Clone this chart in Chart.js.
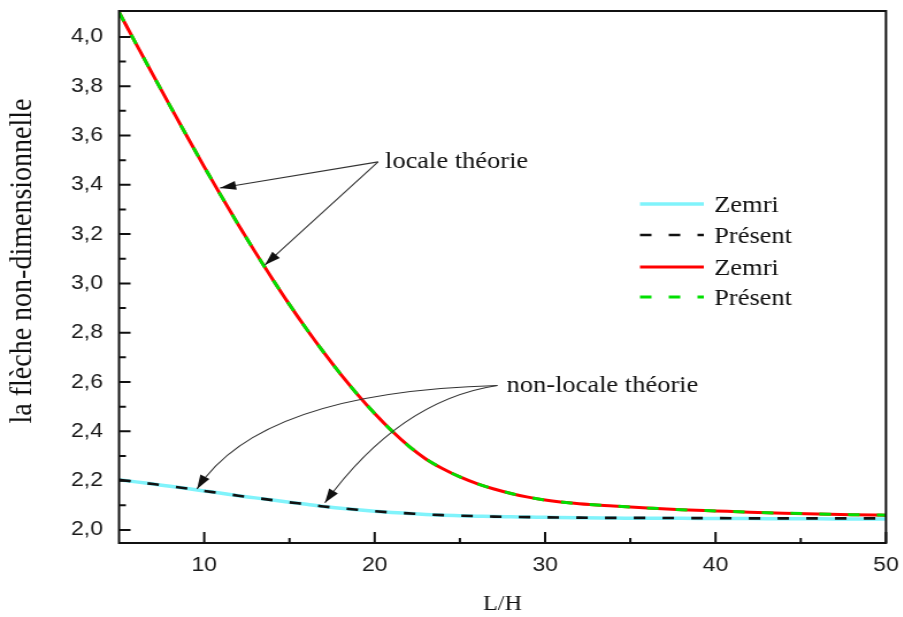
<!DOCTYPE html>
<html>
<head>
<meta charset="utf-8">
<script src="https://cdn.jsdelivr.net/npm/chart.js@4.4.0/dist/chart.umd.min.js"></script>
<style>
  html, body { margin: 0; padding: 0; background: #fff; overflow: hidden; }
  #wrap { width: 785px; height: 617px; transform: scaleX(1.15); transform-origin: 0 0; }
</style>
</head>
<body>
<div id="wrap"><canvas id="chart" aria-label="la flèche non-dimensionnelle en fonction de L/H" role="img"></canvas></div>
<script>
// L/H values shared by all curves
const lh = [5, 6, 7, 8, 9, 10, 11, 12, 13, 14, 15, 16, 17, 18, 19, 20, 21, 22, 23, 24, 25,
  26, 27, 28, 29, 30, 32, 34, 36, 38, 40, 42, 44, 46, 48, 50];

// non-locale théorie
const nonLocalZemri = [2.203, 2.195, 2.186, 2.177, 2.168, 2.158, 2.149, 2.139, 2.130, 2.121, 2.112,
  2.104, 2.095, 2.088, 2.082, 2.076, 2.071, 2.067, 2.063, 2.060, 2.058, 2.056, 2.054, 2.053, 2.052,
  2.051, 2.049, 2.048, 2.047, 2.047, 2.046, 2.046, 2.045, 2.045, 2.044, 2.044];
const nonLocalPresent = [2.203, 2.195, 2.186, 2.177, 2.168, 2.158, 2.149, 2.139, 2.130, 2.121, 2.112,
  2.104, 2.095, 2.088, 2.082, 2.076, 2.071, 2.067, 2.063, 2.060, 2.058, 2.056, 2.054, 2.053, 2.052,
  2.051, 2.050, 2.049, 2.049, 2.048, 2.048, 2.047, 2.047, 2.047, 2.047, 2.047];

// locale théorie
const localZemri = [4.100, 3.972, 3.845, 3.719, 3.595, 3.473, 3.354, 3.238, 3.126, 3.018, 2.914,
  2.815, 2.721, 2.632, 2.549, 2.472, 2.402, 2.340, 2.288, 2.248, 2.215, 2.188, 2.166, 2.148, 2.133,
  2.121, 2.106, 2.097, 2.089, 2.082, 2.077, 2.072, 2.068, 2.065, 2.062, 2.060];
const localPresent = localZemri.slice();

const xTicks = [10, 20, 30, 40, 50];
const xMinorTicks = [15, 25, 35, 45];
const yTicks = [2.0, 2.2, 2.4, 2.6, 2.8, 3.0, 3.2, 3.4, 3.6, 3.8, 4.0];
const yMinorTicks = [2.1, 2.3, 2.5, 2.7, 2.9, 3.1, 3.3, 3.5, 3.7, 3.9];

// annotation anchors, in data units
const localLabel = { text: "locale théorie", x: 20.2, y: 3.493 };
const localTips = [[10.92, 3.387], [13.56, 3.075]];
const nonLocalLabel = { text: "non-locale théorie", x: 27.2, y: 2.586 };
const nonLocalTips = [
  { tip: [9.575, 2.166], ctrl: [13.27, 2.56] },
  { tip: [17.08, 2.11], ctrl: [21.48, 2.527] },
];

const serif = "'Liberation Serif', 'Times New Roman', serif";
const sans = "'Liberation Sans', Arial, sans-serif";

function toPts(ys) {
  return lh.map((v, i) => ({ x: v, y: ys[i] }));
}

function arrowHead(ctx, fx, fy, tx, ty) {
  const ang = Math.atan2(ty - fy, tx - fx);
  const len = 14, half = 4.5;
  ctx.beginPath();
  ctx.moveTo(tx, ty);
  ctx.lineTo(tx - len * Math.cos(ang) + half * Math.sin(ang), ty - len * Math.sin(ang) - half * Math.cos(ang));
  ctx.lineTo(tx - len * Math.cos(ang) - half * Math.sin(ang), ty - len * Math.sin(ang) + half * Math.cos(ang));
  ctx.closePath();
  ctx.fill();
}

function noPad(s) {
  s.paddingTop = 0;
  s.paddingBottom = 0;
  s.paddingLeft = 0;
  s.paddingRight = 0;
}

const overlay = {
  id: "overlay",
  afterDatasetsDraw(chart) {
    const { ctx, chartArea: a, scales: { x, y } } = chart;
    const px = (v) => x.getPixelForValue(v);
    const py = (v) => y.getPixelForValue(v);
    ctx.save();

    // locale théorie arrows
    ctx.strokeStyle = "#333";
    ctx.fillStyle = "#111";
    ctx.lineWidth = 1.1;
    const lx = px(localLabel.x), ly = py(localLabel.y);
    localTips.forEach(([tx, ty]) => {
      ctx.beginPath();
      ctx.moveTo(lx, ly);
      ctx.lineTo(px(tx), py(ty));
      ctx.stroke();
      arrowHead(ctx, lx, ly, px(tx), py(ty));
    });

    // non-locale théorie arrows
    const nx = px(nonLocalLabel.x), ny = py(nonLocalLabel.y);
    nonLocalTips.forEach(({ tip, ctrl }) => {
      const cx = px(ctrl[0]), cy = py(ctrl[1]);
      const tx = px(tip[0]), ty = py(tip[1]);
      ctx.beginPath();
      ctx.moveTo(nx, ny);
      ctx.quadraticCurveTo(cx, cy, tx, ty);
      ctx.stroke();
      arrowHead(ctx, cx, cy, tx, ty);
    });

    ctx.fillStyle = "#111";
    ctx.font = "23px " + serif;
    ctx.textAlign = "left";
    ctx.textBaseline = "middle";
    ctx.fillText(localLabel.text, lx + 6, ly);
    ctx.fillText(nonLocalLabel.text, nx + 8, ny);

    // legend
    const rows = [204, 235, 267, 297];
    chart.data.datasets.forEach((ds, i) => {
      ctx.beginPath();
      ctx.setLineDash(ds.borderDash || []);
      ctx.strokeStyle = ds.borderColor;
      ctx.lineWidth = ds.borderWidth;
      ctx.moveTo(556.5, rows[i]);
      ctx.lineTo(612, rows[i]);
      ctx.stroke();
      ctx.setLineDash([]);
      ctx.fillStyle = "#111";
      ctx.fillText(ds.label, 621, rows[i] + 2);
    });

    // frame and inward ticks
    ctx.strokeStyle = "#111";
    ctx.lineWidth = 2;
    ctx.strokeRect(a.left, a.top, a.right - a.left, a.bottom - a.top);
    ctx.beginPath();
    xTicks.forEach((v) => { ctx.moveTo(px(v), a.bottom); ctx.lineTo(px(v), a.bottom - 11); });
    xMinorTicks.forEach((v) => { ctx.moveTo(px(v), a.bottom); ctx.lineTo(px(v), a.bottom - 5); });
    yTicks.forEach((v) => { ctx.moveTo(a.left, py(v)); ctx.lineTo(a.left + 10, py(v)); });
    yMinorTicks.forEach((v) => { ctx.moveTo(a.left, py(v)); ctx.lineTo(a.left + 6, py(v)); });
    ctx.stroke();

    // y axis title
    ctx.translate(19.5, 261);
    ctx.rotate(-Math.PI / 2);
    ctx.textAlign = "center";
    ctx.font = "28px " + serif;
    ctx.fillText("la flèche non-dimensionnelle", 0, 0);
    ctx.restore();
  },
};

new Chart(document.getElementById("chart"), {
  type: "line",
  data: {
    datasets: [
      { label: "Zemri", data: toPts(nonLocalZemri), borderColor: "#80f3fb", borderWidth: 3.5, order: 2 },
      { label: "Présent", data: toPts(nonLocalPresent), borderColor: "#111111", borderWidth: 2.6, borderDash: [10, 15], order: 1 },
      { label: "Zemri", data: toPts(localZemri), borderColor: "#ff0000", borderWidth: 3, order: 2 },
      { label: "Présent", data: toPts(localPresent), borderColor: "#00e000", borderWidth: 3, borderDash: [10, 15], order: 1 },
    ],
  },
  options: {
    responsive: true,
    maintainAspectRatio: false,
    animation: false,
    layout: { padding: { top: 11, right: 14.6, left: 0, bottom: 0 } },
    elements: { point: { radius: 0 }, line: { cubicInterpolationMode: "monotone" } },
    plugins: { legend: { display: false }, tooltip: { enabled: false } },
    scales: {
      x: {
        type: "linear",
        min: 5,
        max: 50,
        grid: { display: false, drawTicks: false },
        border: { display: false },
        afterBuildTicks: (s) => { s.ticks = xTicks.map((v) => ({ value: v })); },
        afterFit: (s) => { s.height = 74; noPad(s); },
        ticks: { color: "#1a1a1a", padding: 10, maxRotation: 0, font: { family: sans, size: 20 } },
        title: { display: true, text: "L/H", color: "#111", padding: { top: 0, bottom: 0 }, font: { family: serif, size: 21 } },
      },
      y: {
        min: 1.947,
        max: 4.105,
        grid: { display: false, drawTicks: false },
        border: { display: false },
        afterBuildTicks: (s) => { s.ticks = yTicks.map((v) => ({ value: v })); },
        afterFit: (s) => { s.width = 103.5; noPad(s); },
        ticks: {
          color: "#1a1a1a",
          padding: 14,
          font: { family: sans, size: 20 },
          callback: (v) => v.toFixed(1).replace(".", ","),
        },
      },
    },
  },
  plugins: [overlay],
});
</script>
</body>
</html>
